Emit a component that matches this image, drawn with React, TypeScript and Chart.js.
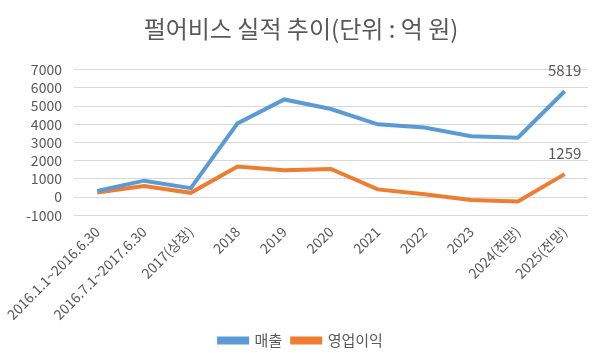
import React, { useEffect, useRef } from "react";
import { Chart, registerables } from "chart.js";

Chart.register(...registerables);

const categories = [
  "2016.1.1~2016.6.30",
  "2016.7.1~2017.6.30",
  "2017(상장)",
  "2018",
  "2019",
  "2020",
  "2021",
  "2022",
  "2023",
  "2024(전망)",
  "2025(전망)",
];
const revenue = [330, 900, 490, 4050, 5370, 4840, 4000, 3830, 3350, 3260, 5819];
const operatingProfit = [250, 600, 230, 1680, 1470, 1540, 420, 150, -160, -250, 1259];
const labelledIndex = 10;
const yTicks = { min: -1000, max: 7000, step: 1000 };

const FONT = "'Noto Sans CJK KR', 'Noto Sans', sans-serif";
const TEXT = "#595959";

const lastLabelPlugin = {
  id: "lastLabel",
  afterDatasetsDraw(chart: any) {
    const ctx = chart.ctx;
    ctx.save();
    ctx.font = `15px ${FONT}`;
    ctx.fillStyle = TEXT;
    ctx.textAlign = "center";
    ctx.textBaseline = "middle";
    chart.data.datasets.forEach((ds: any, i: number) => {
      const meta = chart.getDatasetMeta(i);
      const pt = meta.data[labelledIndex];
      if (!pt) return;
      ctx.fillText(String(ds.data[labelledIndex]), pt.x, pt.y - 21);
    });
    ctx.restore();
  },
};

export default function App() {
  const ref = useRef<HTMLCanvasElement>(null);
  useEffect(() => {
    if (!ref.current) return;
    const chart = new Chart(ref.current, {
      type: "line",
      data: {
        labels: categories,
        datasets: [
          {
            label: "매출",
            data: revenue,
            borderColor: "#5B9BD5",
            backgroundColor: "#5B9BD5",
            borderWidth: 4,
            pointRadius: 0,
            tension: 0,
          },
          {
            label: "영업이익",
            data: operatingProfit,
            borderColor: "#ED7D31",
            backgroundColor: "#ED7D31",
            borderWidth: 4,
            pointRadius: 0,
            tension: 0,
          },
        ],
      },
      options: {
        animation: false,
        responsive: false,
        maintainAspectRatio: false,
        layout: { padding: { left: 14, right: 12, top: 0, bottom: -5 } },
        plugins: {
          title: {
            display: true,
            text: "펄어비스 실적 추이(단위 : 억 원)",
            color: TEXT,
            font: { family: FONT, size: 24, weight: "normal" },
            padding: { top: 14, bottom: 27 },
          },
          legend: {
            position: "bottom",
            labels: {
              color: TEXT,
              font: { family: FONT, size: 15 },
              boxWidth: 28,
              boxHeight: 4,
              padding: 10,
            },
          },
          tooltip: { enabled: false },
        },
        scales: {
          x: {
            offset: true,
            grid: { display: false },
            border: { display: false },
            ticks: {
              color: TEXT,
              font: { family: FONT, size: 14 },
              maxRotation: 45,
              minRotation: 45,
              autoSkip: false,
              padding: 0,
            },
          },
          y: {
            min: yTicks.min,
            max: yTicks.max,
            border: { display: false },
            grid: { color: "#D9D9D9", lineWidth: 1, drawTicks: false },
            ticks: {
              stepSize: yTicks.step,
              autoSkip: false,
              color: TEXT,
              font: { family: FONT, size: 14 },
              padding: 12,
              callback: (v: any) => String(v),
            },
          },
        },
      },
      plugins: [lastLabelPlugin],
    });
    return () => chart.destroy();
  }, []);
  return (
    <div style={{ position: "fixed", left: 0, top: 0, width: 600, height: 353, background: "#fff" }}>
      <canvas ref={ref} width={600} height={353} />
    </div>
  );
}
